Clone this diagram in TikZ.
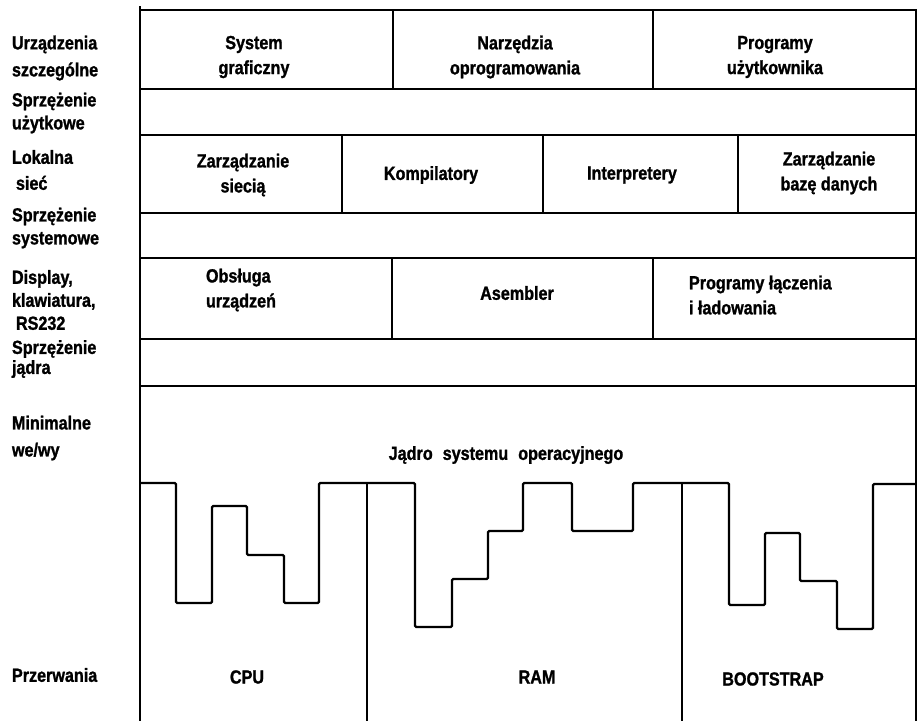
\documentclass[tikz,border=0pt]{standalone}
\usepackage{fontspec}
\setmainfont{Liberation Sans}[FakeStretch=0.85,BoldFeatures={FakeBold=1.2}]
\begin{document}
\begin{tikzpicture}[x=1pt,y=-1pt,line width=2pt,
  txt/.style={font=\bfseries\fontsize{19}{25}\selectfont,inner sep=0pt,align=center},
  lab/.style={font=\bfseries\fontsize{19}{25}\selectfont,inner sep=0pt,align=left,anchor=west},
  wave/.style={line width=2.3pt,rounded corners=1.2pt}]
\useasboundingbox (0,0) rectangle (918,721);
% frame
\draw (140,6) -- (140,721);
\draw (140,10) -- (916,10) -- (916,721);
\foreach \yy in {89,135,213,258,339,386} \draw (140,\yy) -- (916,\yy);
% cell dividers
\draw (393,10) -- (393,89);
\draw (653,10) -- (653,89);
\draw (342,135) -- (342,213);
\draw (543,135) -- (543,213);
\draw (738,135) -- (738,213);
\draw (392,258) -- (392,339);
\draw (653,258) -- (653,339);
\draw (367,483) -- (367,721);
\draw (682,483) -- (682,721);
% wave line
\draw[wave] (140,483) -- (176,483) -- (176,603) -- (212,603) -- (212,506) -- (247,506)
  -- (247,555) -- (284,555) -- (284,603) -- (319,603) -- (319,483) -- (415,483)
  -- (415,627) -- (452,627) -- (452,579) -- (488,579) -- (488,531) -- (523,531)
  -- (523,483) -- (572,483) -- (572,531) -- (633,531) -- (633,483) -- (729,483)
  -- (729,605) -- (765,605) -- (765,533) -- (800,533) -- (800,581) -- (837,581)
  -- (837,629) -- (873,629) -- (873,484) -- (916,484);
% cell texts
\node[txt] (sg) at (254,57) {System\\graficzny};
\node[txt] (no) at (515,57) {Narzędzia\\oprogramowania};
\node[txt] (pu) at (775,57) {Programy\\użytkownika};
\node[txt] (zs) at (243,175) {Zarządzanie\\siecią};
\node[txt] (ko) at (431,175) {Kompilatory};
\node[txt] (ip) at (632,175) {Interpretery};
\node[txt] (zb) at (829,173) {Zarządzanie\\bazę danych};
\node[lab] (ou) at (205,290) {Obsługa\\urządzeń};
\node[txt] (as) at (517,293) {Asembler};
\node[lab] (pl) at (688,295) {Programy łączenia\\i ładowania};
\node[txt] (jd) at (506,455) {Jądro\hspace{10pt}systemu\hspace{10pt}operacyjnego};
\node[txt] (cpu) at (247,677) {CPU};
\node[txt] (ram) at (537,677) {RAM};
\node[txt] (bs) at (773,679) {BOOTSTRAP};
% left labels
\node[lab,font=\bfseries\fontsize{19}{27}\selectfont] (l1) at (11,58) {Urządzenia\\szczególne};
\node[lab,font=\bfseries\fontsize{19}{23}\selectfont] (l2) at (11,113) {Sprzężenie\\użytkowe};
\node[lab,font=\bfseries\fontsize{19}{26}\selectfont] (l3) at (11,170) {Lokalna\\\hspace*{4pt}sieć};
\node[lab,font=\bfseries\fontsize{19}{23}\selectfont] (l4) at (11,228) {Sprzężenie\\systemowe};
\node[lab,font=\bfseries\fontsize{19}{23}\selectfont] (l5) at (11,300) {Display,\\klawiatura,\\\hspace*{4pt}RS232};
\node[lab,font=\bfseries\fontsize{19}{20}\selectfont] (l6) at (11,359) {Sprzężenie\\jądra};
\node[lab,font=\bfseries\fontsize{19}{27}\selectfont] (l7) at (11,438) {Minimalne\\we/wy};
\node[lab] (l8) at (11,675) {Przerwania};
\end{tikzpicture}
\end{document}
